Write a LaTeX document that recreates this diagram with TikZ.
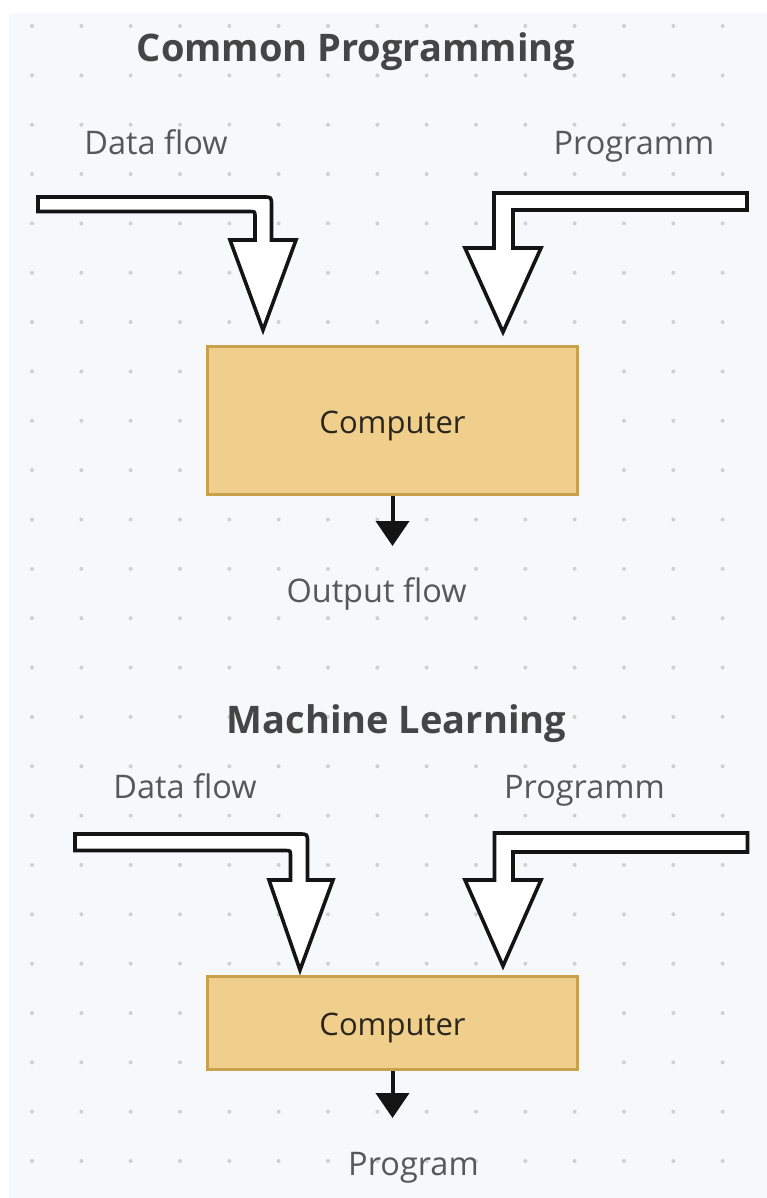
\documentclass[tikz,border=0pt]{standalone}
\usepackage{fontspec}
\setmainfont{Open Sans}
\usetikzlibrary{arrows.meta}

\definecolor{canvas}{HTML}{F7F8FA}
\definecolor{griddot}{HTML}{CFD0D5}
\definecolor{titlegray}{HTML}{454545}
\definecolor{labelgray}{HTML}{585858}
\definecolor{boxfill}{HTML}{EFCF8B}
\definecolor{boxline}{HTML}{C9A04C}
\definecolor{boxtext}{HTML}{2A261E}
\definecolor{ink}{HTML}{141414}

\tikzset{
  headline/.style={anchor=base, inner sep=0pt, text=titlegray,
    font=\fontsize{38}{44}\selectfont\bfseries},
  flowlabel/.style={anchor=base, inner sep=0pt, text=labelgray,
    font=\fontsize{32.5}{38}\selectfont},
  compbox/.style={draw=boxline, line width=3pt, fill=boxfill, text=boxtext,
    minimum width=370pt, text height=26pt, text depth=0pt, inner sep=0pt,
    font=\fontsize{31}{37}\selectfont},
  hollowarrow/.style={draw=ink, fill=white, line width=3.6pt, line join=miter},
  outarrow/.style={draw=ink, line width=4pt,
    -{Triangle[width=33pt,length=25pt]}},
}

\begin{document}
\begin{tikzpicture}[x=1pt,y=-1pt]
  \useasboundingbox (0,0) rectangle (767,1198);
  \fill[white] (0,0) rectangle (767,1198);
  \fill[canvas] (9,13) rectangle (767,1198);

  % dotted grid
  \foreach \i in {0,...,14}
    \foreach \j in {0,...,23}
      \fill[griddot] (32+49.33*\i, 26+49.35*\j) circle[radius=2pt];

  % ---------- Common Programming ----------
  \node[headline] (title1) at (356,62) {Common Programming};
  \node[flowlabel] (data1) at (156,155) {Data flow};
  \node[flowlabel] (prog1) at (634,155) {Programm};

  % bent input arrows
  \draw[hollowarrow]
    (38,197) -- (263,197) .. controls (271.5,197) .. (271.5,205.5)
    -- (271.5,240) -- (296,240) -- (263,330) -- (230,240) -- (255,240)
    -- (255,217) .. controls (255,211.5) .. (249.5,211.5)
    -- (38,211.5) -- cycle;
  \draw[hollowarrow]
    (747,193) -- (494,193) -- (494,248) -- (465,248) -- (503,332)
    -- (541,248) -- (513,248) -- (513,210) -- (747,210) -- cycle;

  \node[compbox, minimum height=148pt] (cmp1) at (392.5,420) {Computer};
  \coordinate (tip1) at (392.5,546);
  \draw[outarrow] (cmp1.south) -- (tip1);
  \node[flowlabel] (out1) at (376.5,602) {Output flow};

  % ---------- Machine Learning ----------
  \node[headline] (title2) at (396.5,733) {Machine Learning};
  \node[flowlabel] (data2) at (185,798) {Data flow};
  \node[flowlabel] (prog2) at (584.5,798) {Programm};

  \draw[hollowarrow]
    (75,834) -- (299,834) .. controls (307.5,834) .. (307.5,842.5)
    -- (307.5,880) -- (333,880) -- (300,970) -- (269,880) -- (290.5,880)
    -- (290.5,856) .. controls (290.5,850.5) .. (285,850.5)
    -- (75,850.5) -- cycle;
  \draw[hollowarrow]
    (747.5,833) -- (494.5,833) -- (494.5,880) -- (465,880) -- (503,966)
    -- (541,880) -- (513,880) -- (513,852) -- (747.5,852) -- cycle;

  \node[compbox, minimum height=93pt] (cmp2) at (392.5,1022.5) {Computer};
  \coordinate (tip2) at (392.5,1118);
  \draw[outarrow] (cmp2.south) -- (tip2);
  \node[flowlabel] (out2) at (413.5,1175) {Program};
\end{tikzpicture}
\end{document}
